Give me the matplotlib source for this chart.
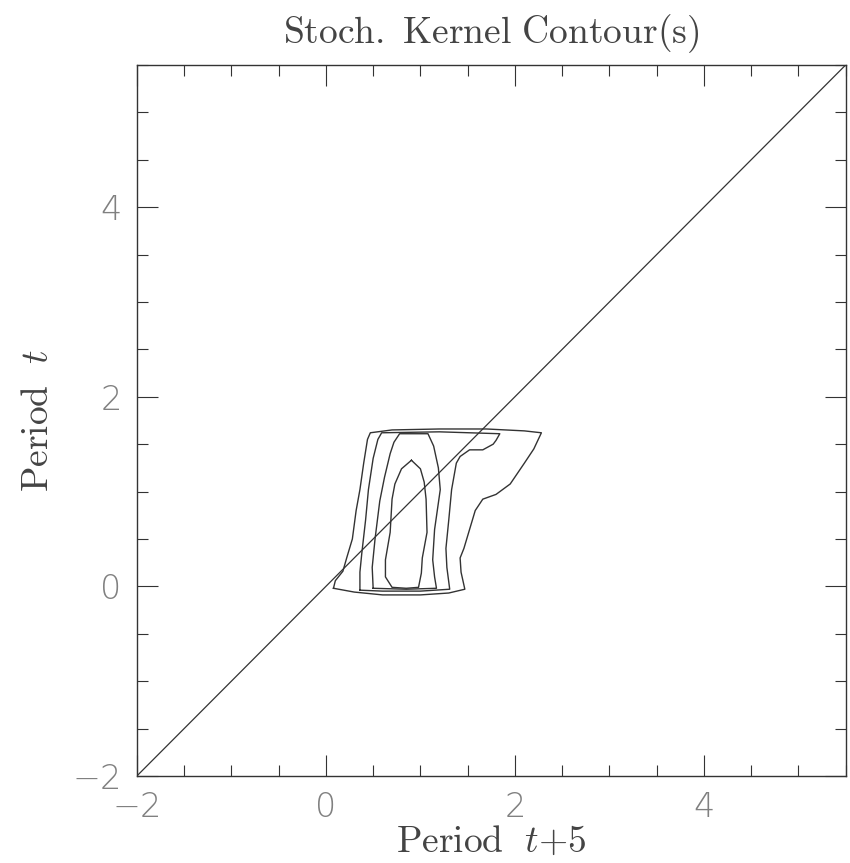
import numpy as np
import matplotlib
matplotlib.use("Agg")
import matplotlib.pyplot as plt

plt.rcParams['mathtext.fontset'] = 'cm'

# contour lines of the stochastic kernel (outer -> inner)
c1_x = [0.08, 0.10, 0.18, 0.22, 0.28, 0.32, 0.36, 0.40, 0.44, 0.47, 0.70, 1.20, 1.70, 2.10, 2.28,
        2.20, 2.10, 1.95, 1.80, 1.66, 1.58, 1.52, 1.46, 1.42, 1.43, 1.47, 1.30, 1.00, 0.60, 0.30, 0.08]
c1_y = [-0.02, 0.06, 0.16, 0.30, 0.50, 0.80, 1.02, 1.30, 1.55, 1.62, 1.65, 1.66, 1.66, 1.64, 1.62,
        1.45, 1.30, 1.08, 0.97, 0.92, 0.80, 0.60, 0.40, 0.30, 0.15, -0.03, -0.07, -0.09, -0.09, -0.06, -0.02]

c2_x = [0.36, 0.36, 0.38, 0.42, 0.45, 0.50, 0.55, 0.59, 1.20, 1.84, 1.80, 1.77, 1.66, 1.52, 1.42,
        1.38, 1.33, 1.30, 1.27, 1.28, 1.31, 1.00, 0.60, 0.36]
c2_y = [-0.04, 0.15, 0.35, 0.70, 1.02, 1.35, 1.55, 1.62, 1.63, 1.61, 1.54, 1.50, 1.44, 1.44, 1.37,
        1.30, 1.02, 0.70, 0.40, 0.20, -0.03, -0.05, -0.05, -0.04]

c3_x = [0.50, 0.49, 0.52, 0.57, 0.62, 0.68, 0.72, 0.78, 1.08, 1.14, 1.19, 1.21, 1.15, 1.13, 1.15,
        1.17, 0.85, 0.50]
c3_y = [-0.02, 0.20, 0.50, 0.90, 1.15, 1.40, 1.52, 1.61, 1.61, 1.48, 1.25, 1.02, 0.60, 0.28, 0.10,
        -0.02, -0.03, -0.02]

c4_x = [0.905, 0.80, 0.73, 0.70, 0.68, 0.63, 0.63, 0.70, 0.85, 0.98, 1.01, 1.02, 1.07, 1.06, 1.04,
        1.00, 0.905]
c4_y = [1.33, 1.24, 1.08, 0.92, 0.57, 0.28, 0.10, -0.01, -0.02, -0.01, 0.14, 0.30, 0.57, 0.92, 1.10,
        1.24, 1.33]

contours = [(c1_x, c1_y), (c2_x, c2_y), (c3_x, c3_y), (c4_x, c4_y)]

lims = [-2, 5.5]
major = [-2, 0, 2, 4]
diag = [-2, 5.5]

fig = plt.figure(figsize=(8.5, 8.63), dpi=100)
ax = fig.add_axes([0.161, 0.1008, 0.834, 0.824])

lc = '#333333'
ax.plot(diag, diag, color=lc, lw=0.9)
for cx, cy in contours:
    ax.plot(cx, cy, color=lc, lw=1.0)

ax.set_xlim(lims)
ax.set_ylim(lims)
ax.set_xticks(major)
ax.set_yticks(major)
ax.set_xticks(np.arange(-2, 5.51, 0.5), minor=True)
ax.set_yticks(np.arange(-2, 5.51, 0.5), minor=True)
ax.tick_params(which='both', direction='in', top=True, right=True, color=lc, width=0.8)
ax.tick_params(which='major', length=15, pad=11, labelsize=24, labelcolor='#808080')
ax.tick_params(which='minor', length=8)
for lab in ax.get_xticklabels() + ax.get_yticklabels():
    lab.set_fontweight('light')
for s in ax.spines.values():
    s.set_color(lc)
    s.set_linewidth(1.0)

ax.set_xlabel(r'$\mathrm{Period}\ \ t\mathrm{+5}$', fontsize=27, color='#444444', labelpad=0)
ax.set_ylabel(r'$\mathrm{Period}\ \ t$', fontsize=27, color='#444444', labelpad=12)
ax.set_title(r'$\mathrm{Stoch.\ Kernel\ Contour(s)}$', fontsize=27, color='#444444', pad=16)

fig.savefig('out.png', dpi=100, facecolor='white')
